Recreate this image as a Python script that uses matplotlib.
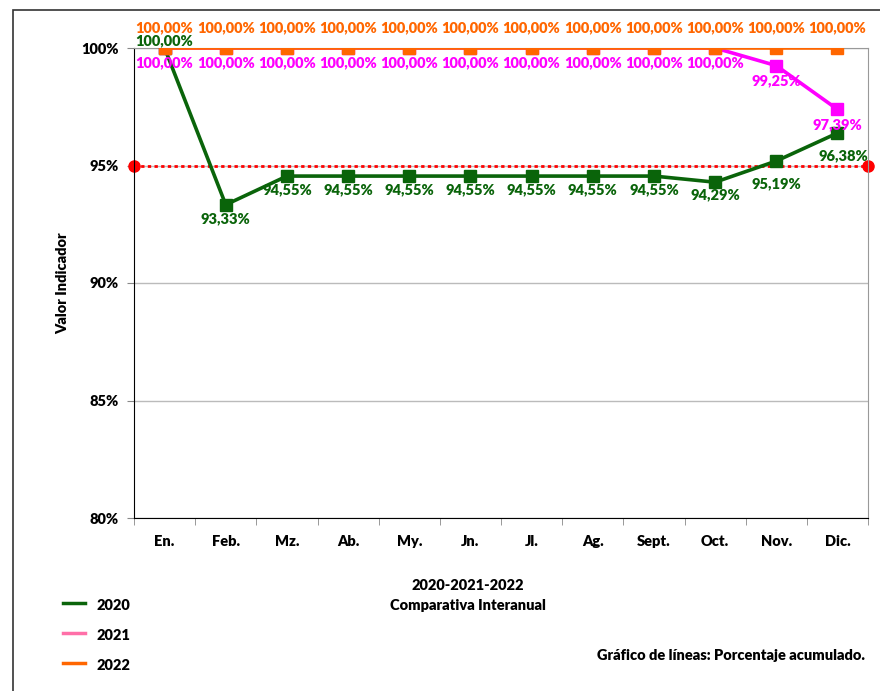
import matplotlib.pyplot as plt
from matplotlib.patches import Rectangle
from matplotlib.lines import Line2D

# ----- datos -----
meses = ["En.", "Feb.", "Mz.", "Ab.", "My.", "Jn.", "Jl.", "Ag.", "Sept.", "Oct.", "Nov.", "Dic."]
v2020 = [100.00, 93.33, 94.55, 94.55, 94.55, 94.55, 94.55, 94.55, 94.55, 94.29, 95.19, 96.38]
v2021 = [100.00, 100.00, 100.00, 100.00, 100.00, 100.00, 100.00, 100.00, 100.00, 100.00, 99.25, 97.39]
v2022 = [100.00] * 12
meta = 95

verde = "#0A640A"
magenta = "#FF00FF"
naranja = "#FF6600"
rosa = "#FF6FA8"

plt.rcParams['font.family'] = ['Lato', 'DejaVu Sans']
plt.rcParams['font.weight'] = 'heavy'
plt.rcParams['axes.labelweight'] = 'heavy'

fig = plt.figure(figsize=(8.8, 6.91), dpi=100)
ax = fig.add_axes([134/880, 1 - 518/691, 734/880, 470/691])

x = list(range(len(meses)))

# ----- lineas -----
ax.plot([-0.5, 11.5], [meta, meta], color="red", lw=2, ls=(0, (1.2, 1.2)),
        marker="o", markersize=8, clip_on=False, zorder=2)
ax.plot(x, v2020, color=verde, lw=2.6, marker="s", markersize=8, zorder=3)
ax.plot(x, v2021, color=magenta, lw=2.6, marker="s", markersize=8, zorder=4)
ax.plot(x, v2022, color=naranja, lw=2.6, marker="s", markersize=8, zorder=5)

def etiq(v):
    return ("%.2f%%" % v).replace(".", ",")

# desplazamiento vertical (pixeles) de las etiquetas 2020
dy2020 = [7, -14, -14, -14, -14, -14, -14, -14, -14, -13, -23, -23]

px = 72 / 100  # pixels -> points
for i in x:
    ax.annotate(etiq(v2022[i]), (i, v2022[i]), xytext=(0, 20 * px), textcoords="offset points",
                ha="center", va="center", color=naranja, fontsize=10.5, annotation_clip=False)
    ax.annotate(etiq(v2021[i]), (i, v2021[i]), xytext=(0, -15 * px), textcoords="offset points",
                ha="center", va="center", color=magenta, fontsize=10.5, annotation_clip=False)
    dx = 6 if i == 11 else 0
    ax.annotate(etiq(v2020[i]), (i, v2020[i]), xytext=(dx * px, dy2020[i] * px), textcoords="offset points",
                ha="center", va="center", color=verde, fontsize=10.5, annotation_clip=False)

# ----- ejes -----
ax.set_xlim(-0.5, 11.5)
ax.set_ylim(80, 100)
ax.set_yticks([80, 85, 90, 95, 100])
ax.set_yticklabels(["80%", "85%", "90%", "95%", "100%"], fontsize=10.5)
ax.set_xticks(x)
ax.set_xticklabels(meses, fontsize=10.5)
ax.set_xticks([i - 0.5 for i in range(13)], minor=True)
ax.tick_params(axis="x", which="major", length=0, pad=12)
ax.tick_params(axis="x", which="minor", length=5, color="#888888")
ax.tick_params(axis="y", length=5, color="#888888", pad=6)
ax.yaxis.grid(True, color="#BBBBBB", lw=1)
ax.set_axisbelow(True)
for s in ["top", "right"]:
    ax.spines[s].set_color("#999999")
for s in ["left", "bottom"]:
    ax.spines[s].set_color("black")
ax.set_ylabel("Valor Indicador", fontsize=10.5, labelpad=9)

# ----- textos -----
fig.text(468/880, 1 - 586/691, "2020-2021-2022", ha="center", va="center", fontsize=10.5)
fig.text(468/880, 1 - 605/691, "Comparativa Interanual", ha="center", va="center", fontsize=10.5)
fig.text(865/880, 1 - 656/691, "Gráfico de líneas: Porcentaje acumulado.", ha="right", va="center", fontsize=10.5)

# leyenda manual
for y, c, t in [(606, verde, "2020"), (636, rosa, "2021"), (666, naranja, "2022")]:
    fig.add_artist(Line2D([63/880, 85/880], [1 - (y - 3)/691] * 2, color=c, lw=2.5))
    fig.text(96/880, 1 - y/691, t, ha="left", va="center", fontsize=10.5)

# marco exterior
fig.add_artist(Rectangle((13/880, -0.1), 1.0, 1 - 10/691 + 0.1, fill=False,
                         edgecolor="#333333", lw=1.2, transform=fig.transFigure))

fig.savefig("out.png", dpi=100)
